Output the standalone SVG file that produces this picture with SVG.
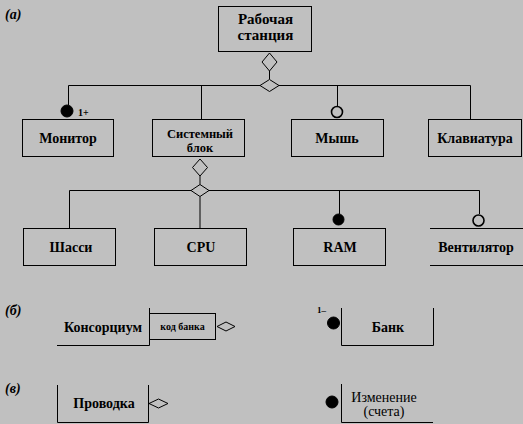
<svg xmlns="http://www.w3.org/2000/svg" width="523" height="424" viewBox="0 0 523 424">
<style>
.box{fill:none;stroke:#000;stroke-width:1}
.ln{fill:none;stroke:#000;stroke-width:1}
.dm{fill:#c0c0c0;stroke:#000;stroke-width:1}
.fc{fill:#000;stroke:#000;stroke-width:1}
.oc{fill:#c0c0c0;stroke:#000;stroke-width:1.6}
text{font-family:'Liberation Serif','DejaVu Serif',serif}
.t{font-size:14px;font-weight:bold;text-anchor:middle;fill:#000}
.s{font-size:12.5px}
.k{font-size:10px}
.n{font-weight:normal;font-size:14px}
.lab{font-size:14px;font-weight:bold;font-style:italic;fill:#000}
.m{font-size:10px;font-weight:bold;fill:#000}
</style>
<rect x="0" y="0" width="523" height="424" fill="#c0c0c0"/>

<text class="lab" x="5" y="19">(а)</text>
<text class="lab" x="5" y="315">(б)</text>
<text class="lab" x="5" y="393">(в)</text>

<g id="connectors">
  <line class="ln" x1="269.5" y1="71" x2="269.5" y2="79"/>
  <polyline class="ln" points="68.5,105 68.5,85.5 260,85.5"/>
  <polyline class="ln" points="279,85.5 470.5,85.5 470.5,119.5"/>
  <line class="ln" x1="201.5" y1="85.5" x2="201.5" y2="119.5"/>
  <line class="ln" x1="337.5" y1="85.5" x2="337.5" y2="106"/>
  <path class="dm" d="M269.5,53 L277,62 L269.5,71 L262,62 Z"/>
  <path class="dm" d="M269.5,79.5 L279,85.5 L269.5,91.5 L260,85.5 Z"/>
  <circle class="fc" cx="67" cy="111" r="6"/>
  <circle class="oc" cx="337" cy="112" r="5.5"/>
  <text class="m" x="78" y="116">1+</text>

  <line class="ln" x1="200" y1="176" x2="200" y2="184.5"/>
  <polyline class="ln" points="69.5,228.5 69.5,190.5 191,190.5"/>
  <polyline class="ln" points="209,190.5 479.5,190.5 479.5,214"/>
  <line class="ln" x1="200" y1="196.5" x2="200" y2="228.5"/>
  <line class="ln" x1="339.5" y1="190.5" x2="339.5" y2="214"/>
  <path class="dm" d="M200,159 L207.5,167.5 L200,176 L192.5,167.5 Z"/>
  <path class="dm" d="M200,184.5 L209,190.5 L200,196.5 L191,190.5 Z"/>
  <circle class="fc" cx="338.5" cy="219.5" r="5.5"/>
  <circle class="oc" cx="478.5" cy="220.5" r="5.5"/>

  <path class="dm" d="M217,326.5 L226,322 L235,326.5 L226,331 Z"/>
  <circle class="fc" cx="333.5" cy="323" r="6"/>
  <text class="m" x="317" y="313" style="font-size:9px">1–</text>

  <path class="dm" d="M149,403.5 L158.5,399 L168,403.5 L158.5,408 Z"/>
  <circle class="fc" cx="332" cy="402" r="6"/>
</g>

<g id="workstation">
  <rect class="box" x="218.5" y="6.5" width="93" height="45"/>
  <text class="t" style="font-size:15px" x="265.5" y="24">Рабочая</text>
  <text class="t" style="font-size:15px" x="265.5" y="40">станция</text>
</g>
<g id="monitor">
  <rect class="box" x="22.5" y="119.5" width="91" height="37"/>
  <text class="t" x="68" y="143">Монитор</text>
</g>
<g id="sysblock">
  <rect class="box" x="152.5" y="119.5" width="92" height="37"/>
  <text class="t s" x="200" y="138">Системный</text>
  <text class="t s" x="200" y="152">блок</text>
</g>
<g id="mouse">
  <rect class="box" x="291.5" y="119.5" width="92" height="37"/>
  <text class="t" x="337" y="143">Мышь</text>
</g>
<g id="keyboard">
  <rect class="box" x="428.5" y="119.5" width="93" height="37"/>
  <text class="t" x="475" y="143">Клавиатура</text>
</g>

<g id="chassis">
  <rect class="box" x="23.5" y="228.5" width="92" height="37"/>
  <text class="t" x="71" y="252">Шасси</text>
</g>
<g id="cpu">
  <rect class="box" x="154.5" y="228.5" width="92" height="37"/>
  <text class="t" x="201" y="252">CPU</text>
</g>
<g id="ram">
  <rect class="box" x="293.5" y="228.5" width="92" height="37"/>
  <text class="t" x="340" y="252">RAM</text>
</g>
<g id="fan">
  <line class="ln" x1="430" y1="228.5" x2="523" y2="228.5"/>
  <line class="ln" x1="430" y1="265.5" x2="523" y2="265.5"/>
  <text class="t" x="476" y="252">Вентилятор</text>
</g>

<g id="consortium">
  <polyline class="ln" points="57,345.5 149.5,345.5 149.5,308"/>
  <text class="t" x="103" y="332">Консорциум</text>
  <rect class="box" x="149.5" y="313.5" width="66" height="26"/>
  <text class="t k" x="182.5" y="330">код банка</text>
</g>
<g id="bank">
  <polyline class="ln" points="341.5,308 341.5,345.5 433.5,345.5 433.5,308"/>
  <text class="t" x="388" y="332">Банк</text>
</g>

<g id="posting">
  <polyline class="ln" points="57.5,385 57.5,422.5 148.5,422.5 148.5,385"/>
  <text class="t" x="104" y="408">Проводка</text>
</g>
<g id="change">
  <polyline class="ln" points="341.5,384 341.5,422.5 433,422.5"/>
  <text class="t n" x="384" y="402">Изменение</text>
  <text class="t n" x="384" y="416">(счета)</text>
</g>
</svg>
